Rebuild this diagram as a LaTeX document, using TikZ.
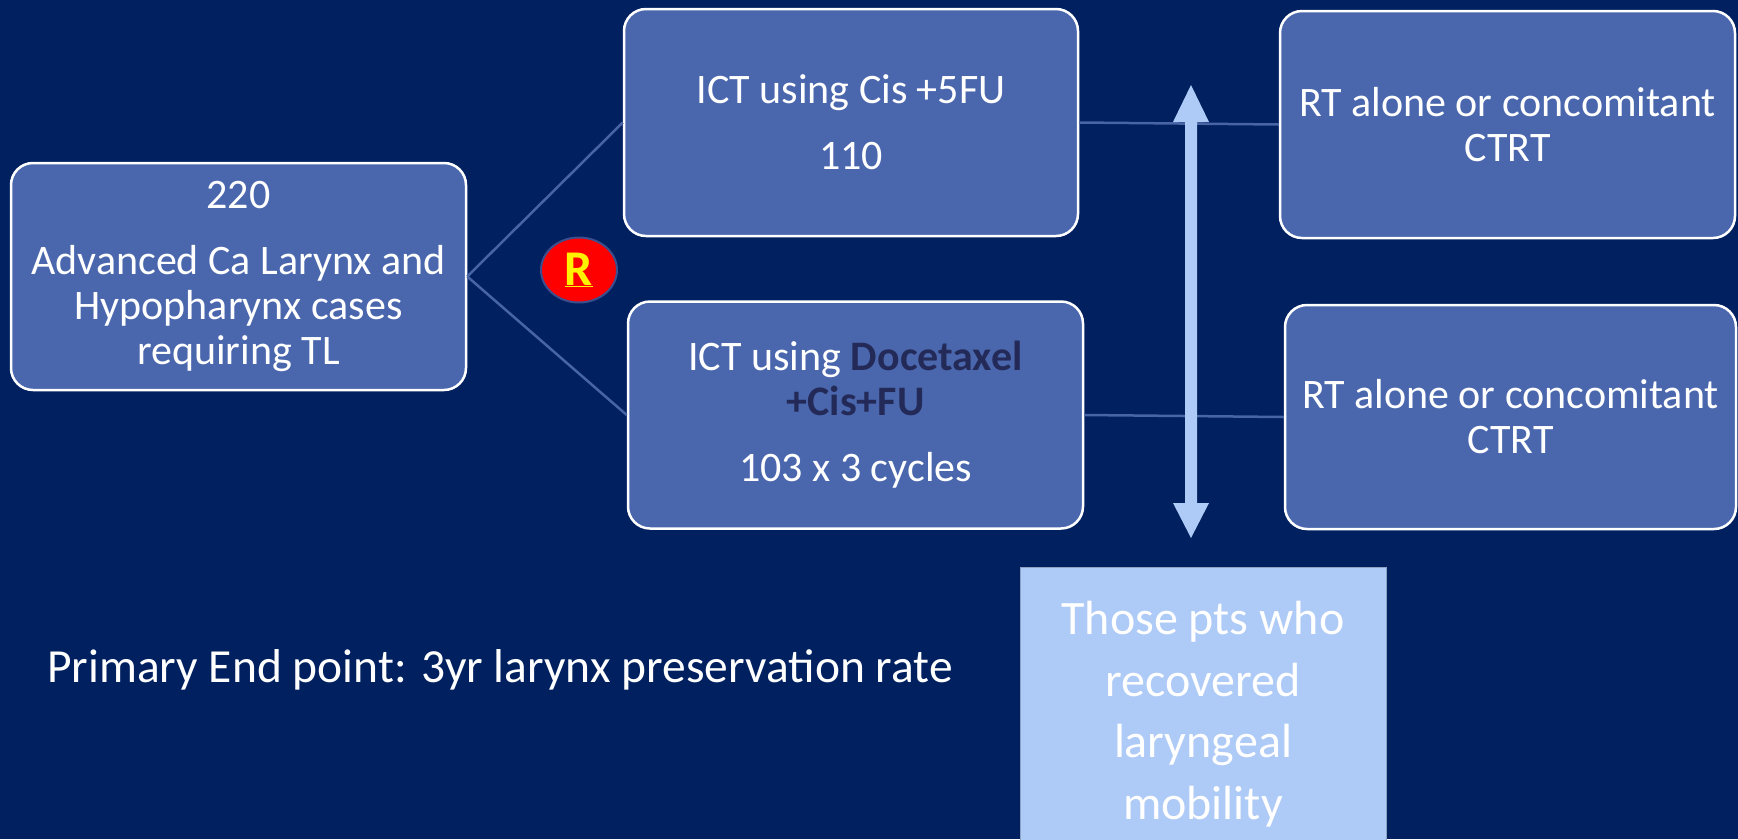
\documentclass[tikz,border=0pt]{standalone}
\usepackage{fontspec}
\setmainfont{Carlito}
\usetikzlibrary{shapes.geometric}
\definecolor{bg}{RGB}{0,32,96}
\definecolor{boxblue}{RGB}{74,103,174}
\definecolor{linkblue}{RGB}{72,100,165}
\definecolor{lightblue}{RGB}{174,202,246}
\definecolor{darknavy}{RGB}{36,42,88}
\definecolor{circleedge}{RGB}{60,78,140}
\tikzset{
  stepbox/.style={draw=white, line width=2.5pt, fill=boxblue, rounded corners=22pt,
    text=white, align=center, inner sep=0pt,
    font=\fontsize{42}{45}\selectfont},
  link/.style={draw=linkblue, line width=2.5pt},
}
\begin{document}
\begin{tikzpicture}[x=1pt,y=-1pt]
\fill[bg] (0,0) rectangle (1738,839);
\useasboundingbox (0,0) rectangle (1738,839);

\node[stepbox, minimum width=455pt, minimum height=227pt] (pop) at (238.5,276.5)
  {220\\[21pt]Advanced Ca Larynx and\\Hypopharynx cases\\requiring TL};
\node[stepbox, minimum width=454pt, minimum height=227pt] (ictA) at (851,122.5)
  {ICT using Cis +5FU\\[21pt]110};
\node[stepbox, minimum width=455pt, minimum height=227pt] (ictB) at (855.5,415)
  {ICT using \textbf{\color{darknavy}Docetaxel}\\\textbf{\color{darknavy}+Cis+FU}\\[21pt]103 x 3 cycles};
\node[stepbox, minimum width=455pt, minimum height=227pt] (rtA) at (1507.5,124.5)
  {RT alone or concomitant\\CTRT};
\node[stepbox, minimum width=451pt, minimum height=224pt] (rtB) at (1510.5,417)
  {RT alone or concomitant\\CTRT};

\draw[link] (pop.east) -- (ictA.west);
\draw[link] (pop.east) -- (ictB.west);
\draw[link] (ictA.east) -- (rtA.west);
\draw[link] (ictB.east) -- (rtB.west);

\node[ellipse, draw=circleedge, line width=2pt, fill=red, minimum width=76pt, minimum height=65pt,
  inner sep=0pt, text=yellow, font=\fontsize{50}{50}\selectfont\bfseries] (rand) at (579,270)
  {\underline{R}};

\fill[lightblue] (1191,85) -- (1209,122) -- (1197,122) -- (1197,503) -- (1209,503)
  -- (1191,538) -- (1173,503) -- (1185,503) -- (1185,122) -- (1173,122) -- cycle;

\node[draw=lightblue!80!black, line width=1pt, fill=lightblue, minimum width=366pt, minimum height=294pt,
  inner sep=0pt, text=white, align=center, font=\fontsize{48}{61.5}\selectfont] (those) at (1203,714)
  {Those pts who\\recovered\\laryngeal\\mobility};

\node[anchor=base west, inner sep=0pt, text=white, font=\fontsize{47.5}{50}\selectfont] (endpoint) at (47,682)
  {Primary End point: 3yr larynx preservation rate};
\end{tikzpicture}
\end{document}
